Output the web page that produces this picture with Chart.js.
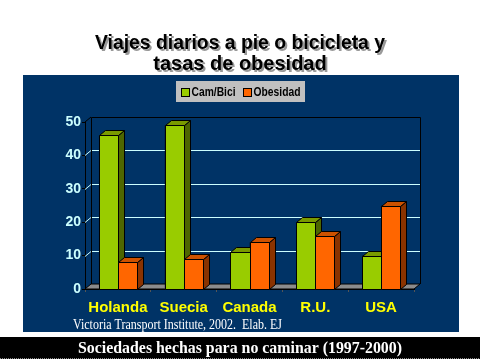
<!DOCTYPE html>
<html>
<head>
<meta charset="utf-8">
<script src="https://cdn.jsdelivr.net/npm/chart.js@4"></script>
<style>
html,body{margin:0;padding:0;background:#fff;}
#wrap{position:relative;width:480px;height:360px;}
canvas{display:block;}
</style>
</head>
<body>
<div id="wrap"><canvas id="c" width="480" height="360"></canvas></div>
<script>
const categories = ['Holanda', 'Suecia', 'Canada', 'R.U.', 'USA'];
const camBici = [46, 49, 11, 20, 10];
const obesidad = [8, 9, 14, 16, 25];
const seriesNames = ['Cam/Bici', 'Obesidad'];
const yTicks = [0, 10, 20, 30, 40, 50];
const titleLines = ['Viajes diarios a pie o bicicleta y', 'tasas de obesidad'];
const sourceText = 'Victoria Transport Institute, 2002.  Elab. EJ';
const footerText = 'Sociedades hechas para no caminar (1997-2000)';

const DX = 6, DY = -5;
const frontColors = ['#99cc00', '#ff6600'];
const topColors = ['#7a9a00', '#cc5200'];
const sideColors = ['#4d6600', '#8a3300'];

const decor = {
  id: 'decor',
  beforeDraw(chart) {
    const ctx = chart.ctx;
    ctx.save();
    ctx.fillStyle = '#ffffff';
    ctx.fillRect(0, 0, 480, 360);
    // navy panel
    ctx.fillStyle = '#003366';
    ctx.fillRect(23, 75, 436, 257);
    // footer bar
    ctx.fillStyle = '#000000';
    ctx.fillRect(0, 337, 480, 22);
    ctx.strokeStyle = '#888';
    ctx.setLineDash([1, 1]);
    ctx.beginPath(); ctx.moveTo(0, 358.5); ctx.lineTo(480, 358.5); ctx.stroke();
    ctx.setLineDash([]);
    // title
    ctx.font = 'bold 20px "Liberation Sans", Arial, sans-serif';
    ctx.textAlign = 'center';
    ctx.textBaseline = 'middle';
    const maxW = [290, 182];
    titleLines.forEach((t, i) => {
      const y = 43 + i * 21;
      ctx.fillStyle = '#999999';
      ctx.fillText(t, 242, y + 2, maxW[i]);
      ctx.fillStyle = '#000000';
      ctx.fillText(t, 240, y, maxW[i]);
    });
    // legend
    ctx.fillStyle = '#c0c0c0';
    ctx.fillRect(176, 81, 129, 21);
    ctx.font = 'bold 13px "Liberation Sans", Arial, sans-serif';
    ctx.textAlign = 'left';
    const lx = [181, 243];
    const lw = [44, 47];
    seriesNames.forEach((n, i) => {
      ctx.fillStyle = frontColors[i];
      ctx.fillRect(lx[i], 88, 9, 9);
      ctx.strokeStyle = '#000';
      ctx.lineWidth = 1;
      ctx.strokeRect(lx[i] + 0.5, 88.5, 8, 8);
      ctx.fillStyle = '#000';
      ctx.fillText(n, lx[i] + 10.5, 92.5, lw[i]);
    });
    // source
    ctx.fillStyle = '#ffffff';
    ctx.font = '14px "Liberation Serif", "Times New Roman", serif';
    ctx.textBaseline = 'middle';
    ctx.fillText(sourceText, 73, 325, 209);
    // footer text
    ctx.textAlign = 'center';
    ctx.font = 'bold 17px "Liberation Serif", "Times New Roman", serif';
    ctx.fillText(footerText, 240, 349, 324);
    ctx.restore();
  },
  beforeDatasetsDraw(chart) {
    const ctx = chart.ctx;
    const a = chart.chartArea;
    const ys = chart.scales.y;
    ctx.save();
    const L = a.left, R = a.right, T = a.top, B = a.bottom;
    // floor
    ctx.fillStyle = '#8c8c8c';
    ctx.strokeStyle = '#000';
    ctx.lineWidth = 1;
    ctx.beginPath();
    ctx.moveTo(L, B); ctx.lineTo(R, B); ctx.lineTo(R + DX, B + DY); ctx.lineTo(L + DX, B + DY); ctx.closePath();
    ctx.fill(); ctx.stroke();
    // gridlines on back wall and side wall
    ctx.strokeStyle = '#ccffff';
    yTicks.forEach(v => {
      if (v === 0 || v === 50) return;
      const y = Math.round(ys.getPixelForValue(v)) + 0.5;
      ctx.beginPath();
      ctx.moveTo(L, y); ctx.lineTo(L + DX, y + DY); ctx.lineTo(R + DX, y + DY);
      ctx.stroke();
    });
    // back wall outline
    ctx.strokeStyle = '#000';
    ctx.beginPath();
    ctx.moveTo(L + DX + 0.5, B + DY); ctx.lineTo(L + DX + 0.5, T + DY + 0.5);
    ctx.lineTo(R + DX + 0.5, T + DY + 0.5); ctx.lineTo(R + DX + 0.5, B + DY);
    ctx.moveTo(L, T); ctx.lineTo(L + DX, T + DY);
    ctx.stroke();
    ctx.restore();
  },
  afterDatasetsDraw(chart) {
    const ctx = chart.ctx;
    ctx.save();
    ctx.strokeStyle = '#000';
    ctx.lineWidth = 1;
    ctx.lineJoin = 'round';
    const n = categories.length;
    for (let i = 0; i < n; i++) {
      for (let d = 0; d < chart.data.datasets.length; d++) {
        const el = chart.getDatasetMeta(d).data[i];
        const w = el.width;
        const x0 = Math.round(el.x - w / 2) + 0.5, x1 = Math.round(el.x + w / 2) + 0.5;
        const y0 = Math.round(el.y) + 0.5, yb = Math.round(el.base) + 0.5;
        // side
        ctx.fillStyle = sideColors[d];
        ctx.beginPath();
        ctx.moveTo(x1, y0); ctx.lineTo(x1 + DX, y0 + DY); ctx.lineTo(x1 + DX, yb + DY); ctx.lineTo(x1, yb); ctx.closePath();
        ctx.fill(); ctx.stroke();
        // top
        ctx.fillStyle = topColors[d];
        ctx.beginPath();
        ctx.moveTo(x0, y0); ctx.lineTo(x0 + DX, y0 + DY); ctx.lineTo(x1 + DX, y0 + DY); ctx.lineTo(x1, y0); ctx.closePath();
        ctx.fill(); ctx.stroke();
        // front
        ctx.fillStyle = frontColors[d];
        ctx.fillRect(x0, y0, x1 - x0, yb - y0);
        ctx.strokeRect(x0, y0, x1 - x0, yb - y0);
      }
    }
    ctx.restore();
  }
};

new Chart(document.getElementById('c'), {
  type: 'bar',
  data: {
    labels: categories,
    datasets: [
      { label: seriesNames[0], data: camBici, backgroundColor: frontColors[0], borderColor: '#000', borderWidth: 1 },
      { label: seriesNames[1], data: obesidad, backgroundColor: frontColors[1], borderColor: '#000', borderWidth: 1 }
    ]
  },
  options: {
    responsive: false,
    animation: false,
    devicePixelRatio: 1,
    categoryPercentage: 0.58,
    barPercentage: 1.0,
    layout: { padding: { left: 23, right: 66, top: 122, bottom: 31 } },
    plugins: { legend: { display: false }, title: { display: false }, tooltip: { enabled: false } },
    scales: {
      x: {
        offset: true,
        afterFit(s) { s.height = 40; },
        grid: { offset: true, drawOnChartArea: false, drawTicks: true, tickLength: 3, color: '#555' },
        border: { display: true, color: '#000' },
        ticks: { color: '#ffff00', font: { family: '"Liberation Sans", Arial, sans-serif', size: 15, weight: 'bold' }, padding: 7, maxRotation: 0 }
      },
      y: {
        min: 0, max: 50,
        afterFit(s) { s.width = 62; },
        afterBuildTicks(s) { s.ticks = yTicks.map(v => ({ value: v })); },
        grid: { drawOnChartArea: false, drawTicks: true, tickLength: 3, color: '#000' },
        border: { display: true, color: '#000' },
        ticks: { color: '#ccffff', font: { family: '"Liberation Sans", Arial, sans-serif', size: 14, weight: 'bold' }, padding: 1 }
      }
    }
  },
  plugins: [decor]
});
</script>
</body>
</html>
